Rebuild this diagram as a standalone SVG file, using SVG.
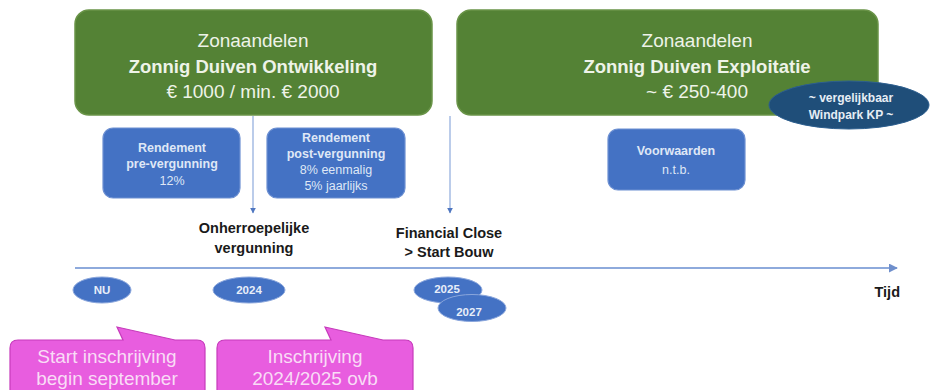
<svg xmlns="http://www.w3.org/2000/svg" width="930" height="390" viewBox="0 0 930 390">
<defs>
<marker id="ah" viewBox="0 0 10 10" refX="9" refY="5" markerWidth="6" markerHeight="6" markerUnits="userSpaceOnUse" orient="auto"><path d="M0,0 L10,5 L0,10 Z" fill="#4f76c0"/></marker>
<marker id="ah2" viewBox="0 0 10 10" refX="9" refY="5" markerWidth="9" markerHeight="9" markerUnits="userSpaceOnUse" orient="auto"><path d="M0,0 L10,5 L0,10 Z" fill="#6f8fcc"/></marker>
</defs>
<style>
.t{font-family:"Liberation Sans",Arial,sans-serif;text-anchor:middle}
.green{fill:#548235;stroke:#6a9448;stroke-width:1.5}
.gt{fill:#eef3e8;font-size:19px}
.gb{fill:#eef3e8;font-size:18.5px;font-weight:bold}
.blue{fill:#4472c4;stroke:#6d90d2;stroke-width:1.2}
.bt{fill:#dfe7f6;font-size:12.5px}
.bb{font-weight:bold}
.ell{fill:#4472c4;stroke:#8aa6dc;stroke-width:1}
.et{fill:#e8eef9;font-size:11.5px;font-weight:bold}
.lab{fill:#1a1a1a;font-size:14.5px;font-weight:bold}
.pink{fill:#e85ddf;stroke:#c63bbb;stroke-width:1.2}
.pt{fill:#f9dcf6;font-size:19px}
.conn{stroke:#8eaadc;fill:none}
</style>
<g id="connectors">
<line class="conn" x1="75" y1="268" x2="897" y2="268" stroke-width="2.2" marker-end="url(#ah2)"/>
<line class="conn" x1="253" y1="116" x2="253" y2="213" stroke-width="1.2" marker-end="url(#ah)"/>
<line class="conn" x1="450" y1="116" x2="450" y2="213" stroke-width="1.2" marker-end="url(#ah)"/>
</g>
<g id="ontwikkeling">
<rect class="green" x="75" y="10" width="357" height="105" rx="14"/>
<text class="t gt" x="253" y="47">Zonaandelen</text>
<text class="t gb" x="253" y="73">Zonnig Duiven Ontwikkeling</text>
<text class="t gt" x="253" y="98">€ 1000 / min. € 2000</text>
</g>
<g id="exploitatie">
<rect class="green" x="457" y="10" width="421" height="105" rx="14"/>
<text class="t gt" x="697" y="47">Zonaandelen</text>
<text class="t gb" x="697" y="73">Zonnig Duiven Exploitatie</text>
<text class="t gt" x="697" y="98">~ € 250-400</text>
</g>
<g id="windpark">
<ellipse cx="849" cy="105" rx="80" ry="24" fill="#1f4e79" stroke="#2d5f8f" stroke-width="1"/>
<text class="t" x="851" y="102" fill="#e6edf5" font-size="12px" font-weight="bold">~ vergelijkbaar</text>
<text class="t" x="851" y="119" fill="#e6edf5" font-size="12px" font-weight="bold">Windpark KP ~</text>
</g>
<g id="pre">
<rect class="blue" x="103" y="128" width="137" height="70" rx="10"/>
<text class="t bt bb" x="172" y="152">Rendement</text>
<text class="t bt bb" x="172" y="168">pre-vergunning</text>
<text class="t bt" x="172" y="185">12%</text>
</g>
<g id="post">
<rect class="blue" x="267" y="128" width="138" height="70" rx="10"/>
<text class="t bt bb" x="336" y="142">Rendement</text>
<text class="t bt bb" x="336" y="158">post-vergunning</text>
<text class="t bt" x="336" y="174">8% eenmalig</text>
<text class="t bt" x="336" y="190">5% jaarlijks</text>
</g>
<g id="voorwaarden">
<rect class="blue" x="608" y="129" width="137" height="61" rx="10"/>
<text class="t bt bb" x="676" y="155" font-size="14px">Voorwaarden</text>
<text class="t bt" x="676" y="174" font-size="14px">n.t.b.</text>
</g>
<g id="vergunning">
<text class="t lab" x="254" y="233">Onherroepelijke</text>
<text class="t lab" x="254" y="253">vergunning</text>
</g>
<g id="financialclose">
<text class="t lab" x="449" y="238">Financial Close</text>
<text class="t lab" x="449" y="257">&gt; Start Bouw</text>
</g>
<g id="tijd">
<text class="t lab" x="900" y="297" style="text-anchor:end">Tijd</text>
</g>
<g id="nu">
<ellipse class="ell" cx="102" cy="290" rx="29" ry="13"/>
<text class="t et" x="102" y="294">NU</text>
</g>
<g id="y2024">
<ellipse class="ell" cx="249" cy="290" rx="36" ry="13"/>
<text class="t et" x="249" y="294">2024</text>
</g>
<g id="y2025">
<ellipse class="ell" cx="448" cy="290" rx="34" ry="13"/>
<text class="t et" x="447" y="293">2025</text>
</g>
<g id="y2027">
<ellipse class="ell" cx="472" cy="308" rx="34" ry="13.5"/>
<text class="t et" x="469" y="316">2027</text>
</g>
<g id="start">
<path class="pink" d="M18,340 H123 L117,327 L175,340 H197 Q205,340 205,348 V400 H10 V348 Q10,340 18,340 Z"/>
<text class="t pt" x="107" y="363">Start inschrijving</text>
<text class="t pt" x="107" y="385">begin september</text>
</g>
<g id="inschrijving">
<path class="pink" d="M225,340 H331 L325,327 L383,340 H405 Q413,340 413,348 V400 H217 V348 Q217,340 225,340 Z"/>
<text class="t pt" x="315" y="363">Inschrijving</text>
<text class="t pt" x="315" y="385">2024/2025 ovb</text>
</g>
</svg>
